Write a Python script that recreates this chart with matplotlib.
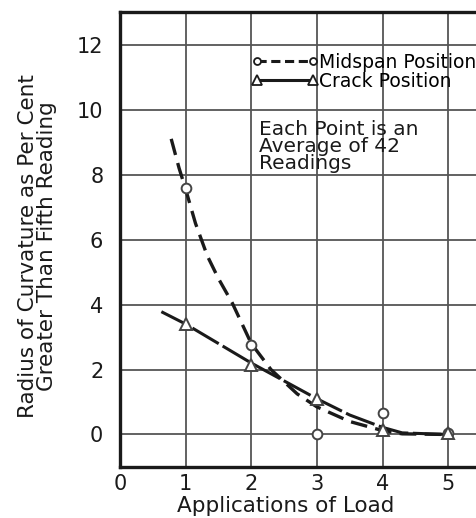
import matplotlib
matplotlib.use("Agg")
import matplotlib.pyplot as plt
from matplotlib.lines import Line2D

# measured points
loads = [1, 2, 3, 4, 5]
midspan = [7.6, 2.75, 0.0, 0.65, 0.05]
crack = [3.4, 2.15, 1.1, 0.15, 0.05]

# hand-drawn fair curves
mid_curve_x = [0.78, 0.9, 1.0, 1.15, 1.33, 1.5, 1.71, 2.0, 2.3, 2.7, 3.0, 3.5, 4.0, 4.3, 5.0]
mid_curve_y = [9.1, 8.2, 7.55, 6.5, 5.5, 4.8, 4.05, 2.8, 2.0, 1.25, 0.85, 0.4, 0.12, 0.02, 0.0]
crack_curve_x = [0.63, 1.0, 1.5, 2.0, 2.5, 3.0, 3.5, 4.0, 4.3, 5.0]
crack_curve_y = [3.78, 3.4, 2.8, 2.2, 1.65, 1.1, 0.6, 0.22, 0.05, 0.0]

x_ticks = [0, 1, 2, 3, 4, 5]
y_ticks = [0, 2, 4, 6, 8, 10, 12]

INK = "#1a1a1a"
GRID = "#555555"

fig = plt.figure(figsize=(4.77, 5.18), dpi=100)
ax = fig.add_axes([0.2516, 0.0985, 0.7484, 0.878])

ax.plot(mid_curve_x, mid_curve_y, color=INK, lw=2.4, dashes=(5, 2.5), zorder=3)
ax.plot(crack_curve_x, crack_curve_y, color=INK, lw=2.2, dashes=(10, 1.5), zorder=3)
ax.plot(loads, midspan, ls="none", marker="o", ms=7, mfc="white", mec="#444444", mew=1.4, zorder=4)
ax.plot(loads, crack, ls="none", marker="^", ms=8, mfc="white", mec="#444444", mew=1.4, zorder=4)

ax.set_xlim(0, 5.44)
ax.set_ylim(-1, 13)
ax.set_xticks(x_ticks)
ax.set_yticks(y_ticks)
ax.set_xticklabels([str(v) for v in x_ticks], fontsize=15, color=INK)
ax.set_yticklabels([str(v) for v in y_ticks], fontsize=15, color=INK)
ax.tick_params(length=0)
ax.tick_params(axis="y", pad=12)
ax.tick_params(axis="x", pad=5)
ax.grid(True, color=GRID, lw=1.3)
ax.set_axisbelow(True)
for s in ["left", "bottom", "top"]:
    ax.spines[s].set_linewidth(2.4)
    ax.spines[s].set_color(INK)
ax.spines["right"].set_visible(False)

ax.set_ylabel("Radius of Curvature as Per Cent\nGreater Than Fifth Reading",
              fontsize=15.5, color=INK, linespacing=0.95)
ax.yaxis.set_label_coords(-0.176, 0.486)
ax.set_xlabel("Applications of Load", fontsize=15.5, color=INK)
ax.xaxis.set_label_coords(0.464, -0.064)

handles = [
    Line2D([], [], color=INK, lw=2.2, dashes=(3, 1.5), marker="o", ms=5, mfc="white", mec=INK, mew=1.3),
    Line2D([], [], color=INK, lw=2.2, marker="^", ms=6.5, mfc="white", mec=INK, mew=1.3),
]
ax.legend(handles, ["Midspan Position", "Crack Position"], numpoints=2, frameon=False,
          loc="upper left", bbox_to_anchor=(2.0, 11.75), bbox_transform=ax.transData,
          fontsize=13.5, handlelength=3.6, handletextpad=0.0, labelspacing=0.0,
          borderaxespad=0, borderpad=0)
ax.text(2.12, 8.87, "Each Point is an\nAverage of 42\nReadings", fontsize=14.5,
        color=INK, va="center", linespacing=0.85)

fig.savefig("out.png", dpi=100)
